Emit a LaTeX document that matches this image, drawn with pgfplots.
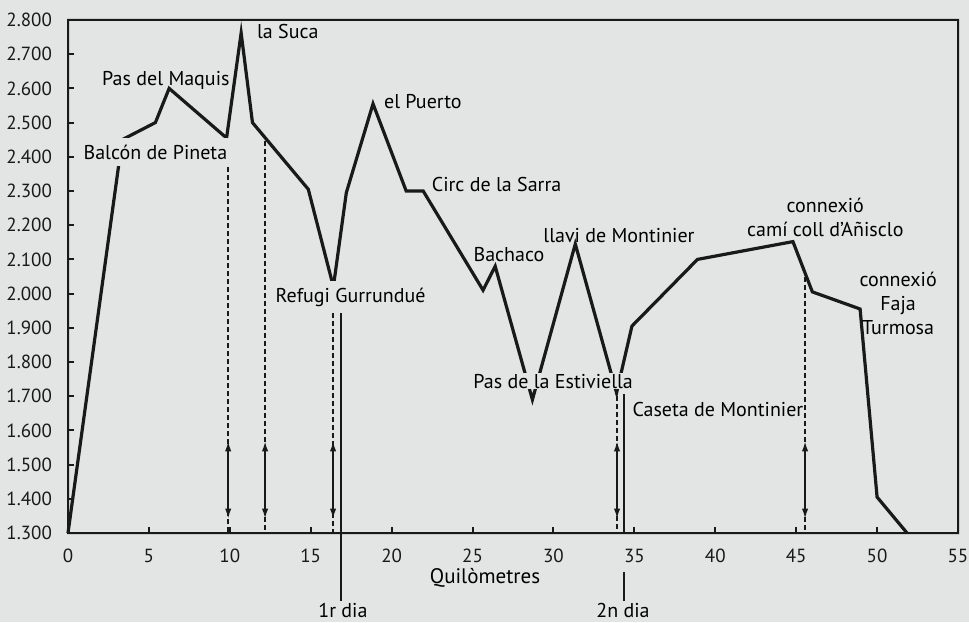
\documentclass[border=0pt]{standalone}
\usepackage{pgfplots}
\pgfplotsset{compat=1.18}
\usepackage{fontspec}
\setmainfont{PT Sans}
\usetikzlibrary{arrows.meta}
\definecolor{bg}{RGB}{226,229,227}
\definecolor{ink}{RGB}{25,25,25}

\begin{document}
\begin{tikzpicture}
  \fill[bg] (0,0) rectangle (484.5pt,311pt);

  \begin{axis}[
      name = prof,
      at = {(34pt,44.5pt)},
      anchor = south west,
      scale only axis,
      width = 445pt,
      height = 256.5pt,
      xmin = 0, xmax = 55,
      ymin = 1300, ymax = 2800,
      xtick = {0,5,...,55},
      ytick = {1300,1400,...,2800},
      tick align = inside,
      xtick pos = left,
      ytick pos = left,
      major tick length = 3pt,
      axis line style = {draw = ink, line width = 1pt},
      tick style = {draw = ink, line width = 1pt},
      ticklabel style = {font = \fontsize{9.5}{10}\selectfont, text = ink},
      /pgf/number format/assume math mode = true,
      /pgf/number format/1000 sep = {.},
      /pgf/number format/min exponent for 1000 sep = 3,
      xticklabel style = {yshift = -4.5pt},
      yticklabel style = {xshift = -4.5pt},
      clip = false,
      every node/.append style = {font = \fontsize{7}{8.6}\selectfont, text = ink, inner sep = 1pt},
  ]

    % dashed day-stage markers
    \addplot[ink, line width = 0.8pt, dash pattern = on 2.5pt off 1.5pt] coordinates {(9.9,2440) (9.9,1300)};
    \addplot[ink, line width = 0.8pt, dash pattern = on 2.5pt off 1.5pt] coordinates {(12.18,2445) (12.18,1300)};
    \addplot[ink, line width = 0.8pt, dash pattern = on 2.5pt off 1.5pt] coordinates {(16.38,1967) (16.38,1300)};
    \addplot[ink, line width = 0.8pt, dash pattern = on 2.5pt off 1.5pt] coordinates {(33.93,1700) (33.93,1300)};
    \addplot[ink, line width = 0.8pt, dash pattern = on 2.5pt off 1.5pt] coordinates {(45.55,2050) (45.55,1300)};

    % double arrows
    \addplot[ink, line width = 0.8pt, {Latex[length=5pt,width=3.2pt]}-{Latex[length=5pt,width=3.2pt]}] coordinates {(9.9,1568) (9.9,1342)};
    \addplot[ink, line width = 0.8pt, {Latex[length=5pt,width=3.2pt]}-{Latex[length=5pt,width=3.2pt]}] coordinates {(12.18,1568) (12.18,1342)};
    \addplot[ink, line width = 0.8pt, {Latex[length=5pt,width=3.2pt]}-{Latex[length=5pt,width=3.2pt]}] coordinates {(16.38,1568) (16.38,1342)};
    \addplot[ink, line width = 0.8pt, {Latex[length=5pt,width=3.2pt]}-{Latex[length=5pt,width=3.2pt]}] coordinates {(33.93,1568) (33.93,1342)};
    \addplot[ink, line width = 0.8pt, {Latex[length=5pt,width=3.2pt]}-{Latex[length=5pt,width=3.2pt]}] coordinates {(45.55,1568) (45.55,1342)};

    % end of day lines
    \addplot[ink, line width = 0.6pt] coordinates {(16.87,1967) (16.87,1100)};
    \addplot[ink, line width = 0.6pt] coordinates {(34.36,1705) (34.36,1300)};
    \addplot[ink, line width = 0.6pt] coordinates {(34.36,1185) (34.36,1100)};

    % elevation profile
    \addplot[ink, line width = 1.6pt, line join = miter] coordinates {
      (0,1300) (3.35,2450) (5.4,2500) (6.25,2600) (9.8,2455)
      (10.7,2762) (11.4,2500) (14.85,2305) (16.4,2020) (17.2,2295)
      (18.85,2555) (20.9,2300) (21.95,2300) (25.65,2010) (26.4,2080)
      (28.7,1690) (31.35,2145) (33.9,1710) (34.85,1905) (38.9,2100)
      (44.8,2152) (46.0,2005) (48.95,1955) (50.0,1405) (51.85,1300)
    };

    % place names
    \node[anchor = west] at (axis cs:11.25,2765) {la Suca};
    \node at (axis cs:6.05,2624) {Pas del Maquis};
    \node[fill = bg] at (axis cs:5.4,2414) {Balcón de Pineta};
    \node[anchor = west] at (axis cs:19.1,2563) {el Puerto};
    \node[anchor = west] at (axis cs:22.05,2320) {Circ de la Sarra};
    \node at (axis cs:34.05,2171) {llavi de Montinier};
    \node at (axis cs:27.25,2113) {Bachaco};
    \node[anchor = west, fill = bg] at (axis cs:12.4,1990) {Refugi Gurrundué};
    \node[fill = bg, inner sep = 0.5pt] at (axis cs:29.98,1744) {Pas de la Estiviella};
    \node[anchor = west] at (axis cs:34.45,1660) {Caseta de Montinier};
    \node[align = center] at (axis cs:46.8,2224) {connexió\\camí coll d'Añisclo};
    \node[align = center] at (axis cs:51.3,1972) {connexió\\Faja\\Turmosa};

    % axis title and day labels
    \node[font = \fontsize{10.5}{12}\selectfont] at (axis cs:25.77,1168) {Quilòmetres};
    \node at (axis cs:16.99,1074) {1r dia};
    \node at (axis cs:34.3,1074) {2n dia};
  \end{axis}

  % frame round the plot area, as a filled ring
  \fill[ink, even odd rule]
    ([shift={(-0.5pt,-0.5pt)}]prof.south west) rectangle ([shift={(0.5pt,0.5pt)}]prof.north east)
    ([shift={(0.5pt,0.5pt)}]prof.south west) rectangle ([shift={(-0.5pt,-0.5pt)}]prof.north east);

  \pgfresetboundingbox
  \path[use as bounding box] (0,0) rectangle (484.5pt,311pt);
\end{tikzpicture}
\end{document}
